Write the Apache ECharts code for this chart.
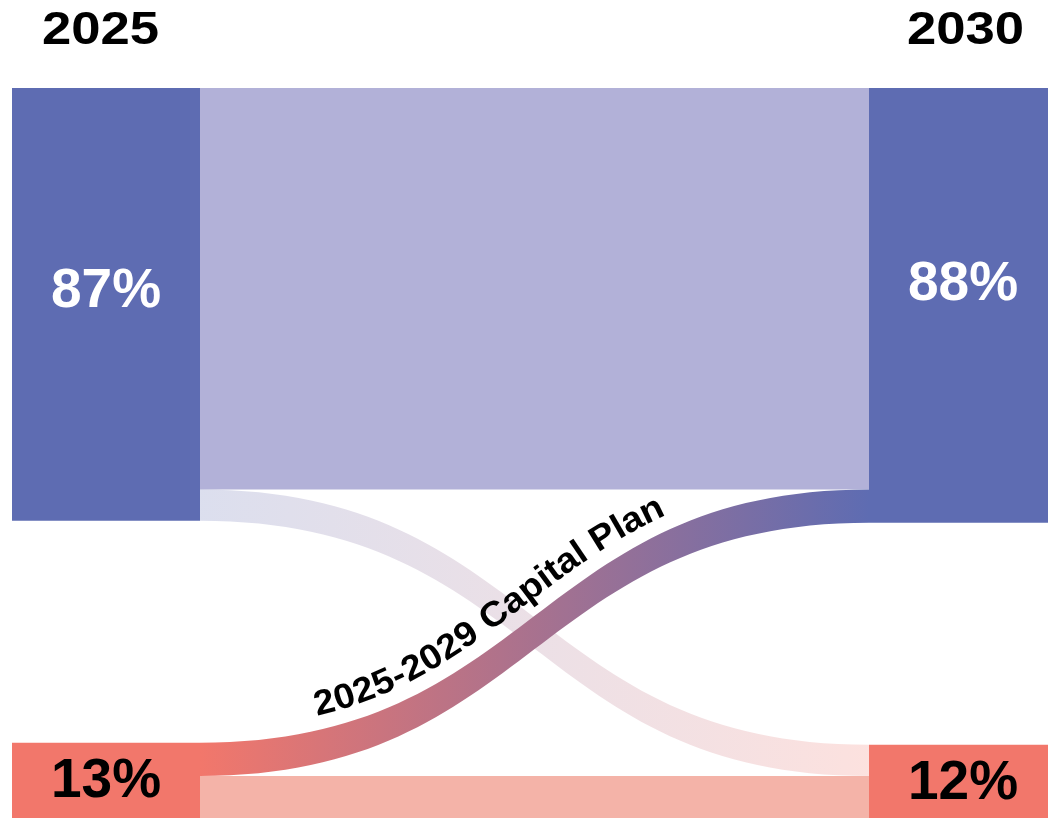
<!DOCTYPE html>
<html>
<head>
<meta charset="utf-8">
<script src="https://cdn.jsdelivr.net/npm/echarts@6/dist/echarts.min.js"></script>
<style>
html,body{margin:0;padding:0;background:#ffffff;}
#chart{width:1048px;height:818px;}
</style>
</head>
<body>
<div id="chart"></div>
<script>
// ---- data ----
const years = ['2025', '2030'];
const nodeIds = ['2025 top', '2025 bottom', '2030 top', '2030 bottom'];
const nodeLabels = ['87%', '13%', '88%', '12%'];
const linkSources = ['2025 top', '2025 top', '2025 bottom', '2025 bottom'];
const linkTargets = ['2030 top', '2030 bottom', '2030 top', '2030 bottom'];
const linkValues = [78.4, 6.1, 6.5, 9.0];
const flowLabel = '2025-2029 Capital Plan';
const flowLabelLink = 2;

// ---- styles ----
const BLUE = '#5E6CB2';
const SALMON = '#F2776B';
const nodeColors = [BLUE, SALMON, BLUE, SALMON];
const labelColors = ['#ffffff', '#000000', '#ffffff', '#000000'];
const labelOffsets = [[0, -12], [0, 0], [0, -21], [0, 0]];
const linkStyles = [
  { color: '#B2B1D8', opacity: 1 },
  { color: 'gradient', opacity: 0.22 },
  { color: 'gradient', opacity: 1 },
  { color: '#F4B3A8', opacity: 1 }
];
const FONT = '"Liberation Sans", Arial, Helvetica, sans-serif';

const chart = echarts.init(document.getElementById('chart'), null, { renderer: 'canvas' });

const option = {
  animation: false,
  backgroundColor: '#ffffff',
  series: [{
    type: 'sankey',
    left: 12, top: 88, right: -9, bottom: -4,
    nodeWidth: 188,
    nodeGap: 222,
    layoutIterations: 0,
    draggable: false,
    silent: true,
    emphasis: { disabled: true },
    data: nodeIds.map((id, i) => ({
      name: id,
      itemStyle: { color: nodeColors[i], borderWidth: 0 },
      label: {
        show: true,
        position: 'inside',
        formatter: nodeLabels[i],
        color: labelColors[i],
        fontSize: 55,
        fontWeight: 'bold',
        fontFamily: FONT,
        offset: labelOffsets[i]
      }
    })),
    links: linkValues.map((v, i) => ({
      source: linkSources[i],
      target: linkTargets[i],
      value: v,
      lineStyle: Object.assign({ curveness: 0.5 }, linkStyles[i])
    }))
  }]
};
chart.setOption(option);

// ---- titles + curved flow label ----
const graphics = [
  { type: 'text', x: 42, y: 31, scaleX: 1.12, silent: true,
    style: { text: years[0], fill: '#000', font: 'bold 47px ' + FONT, align: 'left', verticalAlign: 'middle' } },
  { type: 'text', x: 1024, y: 31, scaleX: 1.12, silent: true,
    style: { text: years[1], fill: '#000', font: 'bold 47px ' + FONT, align: 'right', verticalAlign: 'middle' } }
];

try {
  const sm = chart.getModel().getSeriesByIndex(0);
  const graph = sm.getGraph();
  const li = sm.layoutInfo || { x: 12, y: 88 };
  const e = graph.edges[flowLabelLink];
  const n1 = e.node1.getLayout(), n2 = e.node2.getLayout(), el = e.getLayout();
  const x1 = li.x + n1.x + n1.dx, y1 = li.y + n1.y + el.sy;
  const x2 = li.x + n2.x, y2 = li.y + n2.y + el.ty;
  const c = 0.5;
  const cx1 = x1 * (1 - c) + x2 * c, cx2 = x1 * c + x2 * (1 - c);
  const bez = (t) => {
    const u = 1 - t;
    return [
      u*u*u*x1 + 3*u*u*t*cx1 + 3*u*t*t*cx2 + t*t*t*x2,
      u*u*u*y1 + 3*u*u*t*y1 + 3*u*t*t*y2 + t*t*t*y2
    ];
  };
  const OFF = 24;
  const N = 600;
  const pts = [];
  for (let i = 0; i <= N; i++) {
    const t = i / N;
    const p = bez(t);
    const pa = bez(Math.max(0, t - 0.001)), pb = bez(Math.min(1, t + 0.001));
    let tx = pb[0] - pa[0], ty = pb[1] - pa[1];
    const L = Math.hypot(tx, ty); tx /= L; ty /= L;
    pts.push({ x: p[0] + ty * OFF, y: p[1] - tx * OFF, a: Math.atan2(-ty, tx) });
  }
  const cum = [0];
  for (let i = 1; i < pts.length; i++) cum.push(cum[i-1] + Math.hypot(pts[i].x - pts[i-1].x, pts[i].y - pts[i-1].y));
  const at = (s) => {
    let i = 1;
    while (i < cum.length - 1 && cum[i] < s) i++;
    const f = (s - cum[i-1]) / Math.max(1e-6, cum[i] - cum[i-1]);
    return { x: pts[i-1].x + (pts[i].x - pts[i-1].x) * f,
             y: pts[i-1].y + (pts[i].y - pts[i-1].y) * f, a: pts[i-1].a + (pts[i].a - pts[i-1].a) * f };
  };
  let s0 = 0;
  for (let i = 0; i < pts.length; i++) { if (pts[i].x >= 314) { s0 = cum[i]; break; } }
  const FS = 35, SX = 1.07;
  const cv = document.createElement('canvas').getContext('2d');
  cv.font = 'bold ' + FS + 'px ' + FONT;
  let acc = 0;
  for (const ch of flowLabel) {
    const w = cv.measureText(ch).width * SX;
    const p = at(s0 + acc + w / 2);
    acc += w;
    if (ch === ' ') continue;
    graphics.push({
      type: 'text', x: p.x, y: p.y, rotation: p.a, scaleX: SX, silent: true, z: 100,
      style: { text: ch, fill: '#000', font: 'bold ' + FS + 'px ' + FONT, align: 'center', verticalAlign: 'middle' }
    });
  }
} catch (err) { console.error(err); }

chart.setOption({ graphic: graphics });
</script>
</body>
</html>
